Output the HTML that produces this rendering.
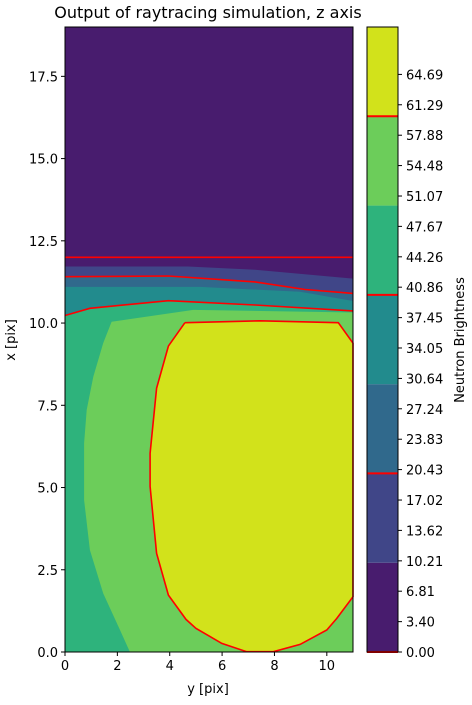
<!DOCTYPE html>
<html><head><meta charset="utf-8"><style>
body{margin:0;background:#fff;}
svg text{font-family:"DejaVu Sans","Liberation Sans",sans-serif;fill:#000;}
</style></head><body>
<svg id="chart" width="472" height="700" xmlns="http://www.w3.org/2000/svg">
<text x="208" y="18" font-size="16" text-anchor="middle">Output of raytracing simulation, z axis</text>
<g id="plot"></g>
<g id="cbar"></g>
<text x="208" y="693" font-size="13" text-anchor="middle">y [pix]</text>
<text x="0" y="0" font-size="13" text-anchor="middle" transform="translate(15,340) rotate(-90)">x [pix]</text>
<text x="0" y="0" font-size="13" text-anchor="middle" transform="translate(464,340) rotate(-90)">Neutron Brightness</text>
</svg>
<script>
const levels=[0,10,20,30,40,50,60,70];
const bandColors=["#481c6e","#404688","#30698c","#228b8d","#2eb37c","#6ccd5a","#d2e21b"];
const cbarTicks=[0,3.40,6.81,10.21,13.62,17.02,20.43,23.83,27.24,30.64,34.05,37.45,40.86,44.26,47.67,51.07,54.48,57.88,61.29,64.69];
const xTicks=[0,2,4,6,8,10];
const yTicks=[0,2.5,5,7.5,10,12.5,15,17.5];
// contour boundaries (data coords [y_pix, x_pix])
const line0=[[0,12.0],[11,12.0]];
const b10=[[0,11.72],[4.7,11.72],[7.26,11.62],[11,11.35]];
const line20=[[0,11.41],[3.95,11.43],[7.26,11.25],[9.17,11.02],[11,10.9]];
const b30=[[0,11.1],[5.16,11.1],[8.98,10.95],[11,10.67]];
const line40=[[0,10.23],[0.95,10.45],[3.95,10.68],[7.26,10.55],[11,10.37]];
const b50=[[11,10.32],[4.9,10.4],[1.78,10.04],[1.46,9.39],[1.08,8.37],[0.83,7.36],[0.73,6.35],[0.73,4.62],[0.95,3.1],[1.46,1.78],[2.1,0.67],[2.48,0],[11,0]];
const line60=[[4.58,10.01],[7.45,10.07],[10.44,10.01],[11,9.39],[11,1.68],[10.38,1.02],[10,0.67],[8.98,0.23],[7.96,0.01],[6.94,0.01],[5.99,0.26],[5,0.72],[4.62,0.99],[3.95,1.73],[3.5,3.0],[3.25,5.03],[3.25,6.04],[3.5,8.02],[3.95,9.3],[4.58,10.01]];
const X0=65,X1=353,Y0=652,Y1=27,XMAX=11,YMAX=19;
const sx=v=>X0+v*(X1-X0)/XMAX, sy=v=>Y0-v*(Y0-Y1)/YMAX;
const cy=v=>Y0-(v-levels[0])*(Y0-Y1)/(levels[levels.length-1]-levels[0]);
const NS="http://www.w3.org/2000/svg";
function mk(tag,attrs,parent){const e=document.createElementNS(NS,tag);for(const k in attrs)e.setAttribute(k,attrs[k]);parent.appendChild(e);return e;}
const pts=a=>a.map(p=>sx(p[0]).toFixed(1)+","+sy(p[1]).toFixed(1)).join(" ");
const plot=document.getElementById("plot");
let r=mk("rect",{x:X0,y:Y1,width:X1-X0,height:Y0-Y1,fill:bandColors[0]},plot);


const under=[b10,line20,b30,line40];
under.forEach((b,i)=>{
  const p=mk("polygon",{points:pts(b.concat([[XMAX,0],[0,0]])),fill:bandColors[i+1]},plot);
  
  
});
let p5=mk("polygon",{points:pts(b50),fill:bandColors[5]},plot);


let p6=mk("polygon",{points:pts(line60),fill:bandColors[6]},plot);


[line0,line20,line40,line60].forEach((l,i)=>{
  const e=mk("polyline",{points:pts(l),fill:"none",stroke:"#ff0000","stroke-width":1.6},plot);
  
  
});
let fr=mk("rect",{x:X0,y:Y1,width:X1-X0,height:Y0-Y1,fill:"none",stroke:"#000","stroke-width":1},plot);


xTicks.forEach(t=>{
  const x=sx(t);
  const l=mk("line",{x1:x,x2:x,y1:Y0,y2:Y0+4,stroke:"#000"},plot);
  
  
  const tx=mk("text",{x:x,y:Y0+18,"font-size":13,"text-anchor":"middle"},plot);
  tx.textContent=t;
  
  
});
yTicks.forEach(t=>{
  const y=sy(t);
  const l=mk("line",{x1:X0-4,x2:X0,y1:y,y2:y,stroke:"#000"},plot);
  
  
  const tx=mk("text",{x:X0-7,y:y+5,"font-size":13,"text-anchor":"end"},plot);
  tx.textContent=t.toFixed(1);
  
  
});
const cb=document.getElementById("cbar");
const CX0=367,CX1=398;
for(let i=0;i<bandColors.length;i++){
  const e=mk("rect",{x:CX0,y:cy(levels[i+1]),width:CX1-CX0,height:cy(levels[i])-cy(levels[i+1]),fill:bandColors[i]},cb);
  
  
}
[0,2,4,6].forEach(i=>{
  const e=mk("line",{x1:CX0,x2:CX1,y1:cy(levels[i]),y2:cy(levels[i]),stroke:"#ff0000","stroke-width":2},cb);
  
  
});
let cf=mk("rect",{x:CX0,y:Y1,width:CX1-CX0,height:Y0-Y1,fill:"none",stroke:"#000"},cb);


cbarTicks.forEach(t=>{
  const y=cy(t);
  const l=mk("line",{x1:CX1,x2:CX1+4,y1:y,y2:y,stroke:"#000"},cb);
  
  
  const tx=mk("text",{x:CX1+8,y:y+5,"font-size":13},cb);
  tx.textContent=t.toFixed(2);
  
  
});
</script>
</body></html>
